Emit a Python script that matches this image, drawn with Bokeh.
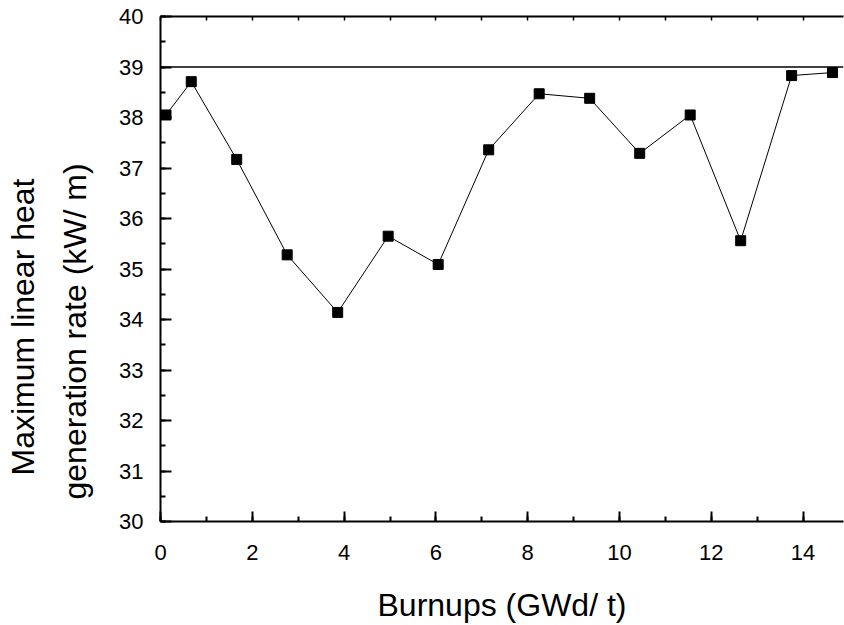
from bokeh.plotting import figure
from bokeh.models import LinearAxis, Span, Title, FixedTicker, Range1d, CustomJSTickFormatter
from bokeh.embed import file_html
from bokeh.resources import INLINE

# data
burnup = [0.12, 0.67, 1.66, 2.76, 3.86, 4.96, 6.05, 7.15, 8.25, 9.35, 10.44, 11.54, 12.64, 13.75, 14.64]
rate = [38.05, 38.71, 37.17, 35.28, 34.14, 35.65, 35.09, 37.36, 38.47, 38.38, 37.29, 38.05, 35.56, 38.83, 38.89]
limit = 39
x_ticks = [0, 2, 4, 6, 8, 10, 12, 14]
y_ticks = [30, 31, 32, 33, 34, 35, 36, 37, 38, 39, 40]
x_label = "Burnups (GWd/ t)"
y_label_1 = "Maximum linear heat"
y_label_2 = "generation rate (kW/ m)"

FONT = "Liberation Sans"

p = figure(output_backend="svg", toolbar_location=None,
           frame_width=683, frame_height=505,
           min_border_left=160, min_border_top=16, min_border_right=1, min_border_bottom=104,
           x_range=Range1d(0, 14.88), y_range=Range1d(30, 40))
p.outline_line_color = None
p.grid.visible = False
p.background_fill_color = "white"
p.border_fill_color = "white"

for ax in (p.xaxis[0], p.yaxis[0]):
    ax.axis_line_width = 2
    ax.axis_line_color = "black"
    ax.major_tick_in = 10
    ax.major_tick_out = 0
    ax.minor_tick_in = 5
    ax.minor_tick_out = 0
    ax.major_tick_line_width = 2
    ax.minor_tick_line_width = 2
    ax.major_tick_line_color = "black"
    ax.minor_tick_line_color = "black"
    ax.major_label_text_font = FONT
    ax.major_label_text_font_size = "22px"
    ax.major_label_text_color = "black"

p.xaxis[0].ticker = FixedTicker(ticks=x_ticks, minor_ticks=list(range(0, 16)))
p.yaxis[0].ticker = FixedTicker(ticks=y_ticks, minor_ticks=[30 + 0.5 * i for i in range(21)])
p.yaxis[0].major_tick_in = 11
p.yaxis[0].major_label_standoff = 17
p.xaxis[0].major_label_standoff = 23

p.xaxis[0].axis_label = x_label
p.xaxis[0].axis_label_text_font = FONT
p.xaxis[0].axis_label_text_font_size = "32px"
p.xaxis[0].axis_label_text_font_style = "normal"
p.xaxis[0].axis_label_text_color = "black"
p.xaxis[0].axis_label_standoff = 24

# top axis with small inward ticks, no labels
top = LinearAxis(ticker=FixedTicker(ticks=list(range(0, 16)), minor_ticks=[]),
                 formatter=CustomJSTickFormatter(code="return ''"))
top.axis_line_width = 2
top.major_tick_in = 4
top.major_tick_out = 0
top.major_tick_line_width = 1.5
top.major_label_standoff = 0
p.add_layout(top, "above")

# reference limit line
p.add_layout(Span(location=limit, dimension="width", line_color="black", line_width=1.5))

p.line(burnup, rate, line_color="black", line_width=1)
p.scatter(burnup, rate, marker="square", size=10, fill_color="black", line_color="black")

# two-line y label as side titles (line 2 nearest the axis)
t2 = Title(text=y_label_2, align="left", offset=22, standoff=43, vertical_align="top",
           text_font=FONT, text_font_size="32px", text_font_style="normal", text_color="black")
t1 = Title(text=y_label_1, align="left", offset=46, standoff=0, vertical_align="bottom",
           text_font=FONT, text_font_size="32px", text_font_style="normal", text_color="black")
try:
    t1.standoff = -11
except Exception:
    t1.standoff = 0
p.add_layout(t2, "left")
p.add_layout(t1, "left")

open("out.html", "w").write(file_html(p, INLINE))
